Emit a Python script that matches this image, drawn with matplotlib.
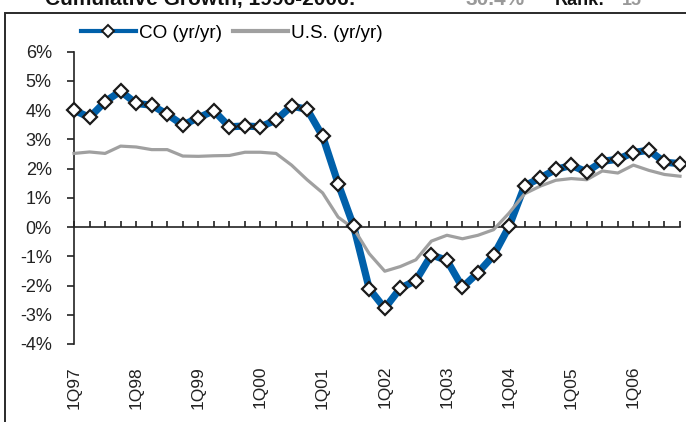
import matplotlib
matplotlib.use("Agg")
import matplotlib.pyplot as plt
from matplotlib.lines import Line2D
from matplotlib.patches import Rectangle
import numpy as np

plt.rcParams['font.family'] = ['Liberation Sans', 'DejaVu Sans']

# quarterly yr/yr growth, 1Q97 .. 4Q06
co = [4.00, 3.75, 4.29, 4.65, 4.23, 4.17, 3.86, 3.49, 3.74, 3.98,
      3.43, 3.46, 3.43, 3.66, 4.14, 4.03, 3.11, 1.49, 0.02, -2.11,
      -2.78, -2.09, -1.83, -0.95, -1.14, -2.06, -1.56, -0.97, 0.02, 1.41,
      1.68, 1.97, 2.11, 1.89, 2.25, 2.32, 2.55, 2.63, 2.22, 2.17]
us = [2.52, 2.57, 2.52, 2.77, 2.74, 2.65, 2.65, 2.43, 2.42, 2.44,
      2.45, 2.56, 2.56, 2.52, 2.12, 1.62, 1.17, 0.34, -0.05, -0.91,
      -1.51, -1.35, -1.12, -0.48, -0.28, -0.40, -0.28, -0.09, 0.48, 1.14,
      1.40, 1.60, 1.66, 1.62, 1.92, 1.85, 2.12, 1.94, 1.80, 1.74]
year_labels = ["1Q97", "1Q98", "1Q99", "1Q00", "1Q01",
               "1Q02", "1Q03", "1Q04", "1Q05", "1Q06"]
yticks = [-4, -3, -2, -1, 0, 1, 2, 3, 4, 5, 6]

blue = "#0060AA"
grey = "#A0A0A0"

fig = plt.figure(figsize=(6.86, 4.22), dpi=100)
ax = fig.add_axes([74/686, 78/422, 606/686, 292.3/422])

x = np.arange(len(co))
ax.plot(x, co, color=blue, lw=5.2, zorder=2, clip_on=False, solid_joinstyle='round')
ax.plot(x, us, color=grey, lw=2.3, zorder=3, clip_on=False)
ax.plot(x, co, ls='none', marker='D', ms=7.5, mfc='white', mec='#1a1a1a',
        mew=1.6, zorder=4, clip_on=False)

ax.set_xlim(0, len(co) - 1)
ax.set_ylim(-4, 6)
ax.set_yticks(yticks)
ax.set_yticklabels([f"{v}%" for v in yticks], fontsize=13)

for s in ['top', 'right']:
    ax.spines[s].set_visible(False)
ax.spines['bottom'].set_position(('data', 0))
for s in ['left', 'bottom']:
    ax.spines[s].set_linewidth(1.2)
    ax.spines[s].set_color('#222222')

ax.tick_params(axis='y', direction='out', length=5, width=1.2, pad=11, colors='#222222')
ax.set_xticks(x)
ax.tick_params(axis='x', direction='in', length=4.5, width=1.2, labelbottom=False,
               colors='#222222')

for i, lab in enumerate(year_labels):
    ax.text(4 * i, -0.075, lab, transform=ax.get_xaxis_transform(), rotation=90,
            ha='center', va='top', fontsize=12.5, color='#222222')

handles = [Line2D([], [], color=blue, lw=3, marker='D', ms=6, mfc='white',
                  mec='#1a1a1a', mew=1.4),
           Line2D([], [], color=grey, lw=3)]
fig.legend(handles, ["CO (yr/yr)", "U.S. (yr/yr)"], loc='center left',
           bbox_to_anchor=(81/686, 1 - 33/422), ncol=2, frameon=False,
           fontsize=13.6, handlelength=2.9, handletextpad=0.15, columnspacing=0.6,
           borderpad=0, borderaxespad=0, numpoints=1)

# outer frame, cut off at right and bottom
fig.patches.append(Rectangle((5/686, -0.1), 1.2, 1.1 - 13/422, transform=fig.transFigure,
                             fill=False, lw=1.4, ec='#2a2a2a'))

# header text, mostly cut off at top of the image
fig.text(45/686, 1 - 5/422, "Cumulative Growth, 1996-2006:", fontsize=15,
         fontweight='bold', va='baseline', ha='left', color='#111111')
fig.text(465/686, 1 - 5/422, "30.4%", fontsize=15, fontweight='bold',
         va='baseline', ha='left', color='#999999')
fig.text(555/686, 1 - 5/422, "Rank:", fontsize=13, fontweight='bold',
         va='baseline', ha='left', color='#111111')
fig.text(622/686, 1 - 5/422, "15", fontsize=13, fontweight='bold',
         va='baseline', ha='left', color='#999999')

fig.savefig("out.png", dpi=100)
